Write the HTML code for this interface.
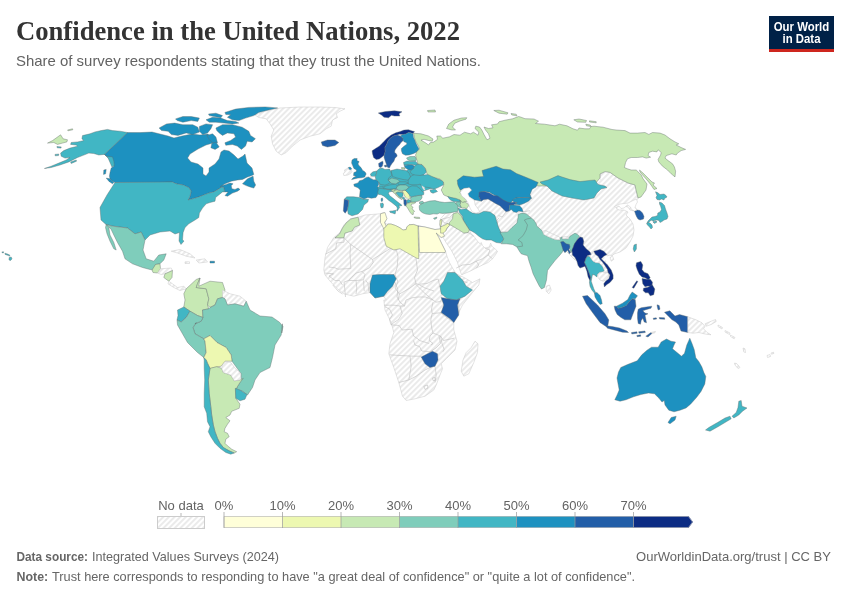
<!DOCTYPE html>
<html><head><meta charset="utf-8">
<style>
html,body{margin:0;padding:0;background:#fff;}
body{width:850px;height:600px;overflow:hidden;position:relative;font-family:"Liberation Sans",sans-serif;}
svg{position:absolute;left:0;top:0;}
.t{font-family:"Liberation Serif",serif;font-weight:bold;fill:#333;}
.s{font-family:"Liberation Sans",sans-serif;fill:#636363;}
.l{font-family:"Liberation Sans",sans-serif;fill:#636363;font-size:13px;}
.f{font-family:"Liberation Sans",sans-serif;fill:#666;font-size:13px;}
</style></head><body>
<svg width="850" height="600" viewBox="0 0 850 600">
<defs>
<pattern id="h" width="4" height="4" patternUnits="userSpaceOnUse" patternTransform="rotate(45)"><rect width="4" height="4" fill="#fff"/><line x1="1" y1="-1" x2="1" y2="5" stroke="#e0e0e0" stroke-width="1.3"/></pattern>
</defs>
<rect width="850" height="600" fill="#fff"/>
<text class="t" x="16" y="40" font-size="27" textLength="444" lengthAdjust="spacingAndGlyphs">Confidence in the United Nations, 2022</text>
<text class="s" x="16" y="66" font-size="15" textLength="465" lengthAdjust="spacingAndGlyphs">Share of survey respondents stating that they trust the United Nations.</text>
<!-- logo -->
<rect x="769" y="16" width="65" height="36" fill="#002147"/>
<rect x="769" y="49" width="65" height="3" fill="#ce261e"/>
<text x="801.5" y="31" text-anchor="middle" font-family="Liberation Sans,sans-serif" font-weight="bold" font-size="12" fill="#fff" textLength="55.5" lengthAdjust="spacingAndGlyphs">Our World</text>
<text x="801.5" y="43" text-anchor="middle" font-family="Liberation Sans,sans-serif" font-weight="bold" font-size="12" fill="#fff" textLength="38" lengthAdjust="spacingAndGlyphs">in Data</text>
<!-- MAP -->
<g id="map" stroke-linejoin="round">
<path d="M358.8 217L365 215L380 213.8L383.8 212.5L386.2 218.8L385 223.8L388 224L391 224L395.5 225.5L400 227.8L403 230L406.2 229.5L406.8 227L409 224.8L413.5 224.4L418 225.9L425 227L435 229.5L441.2 228.8L444.5 236.2L441.2 237.5L436.2 233L438.8 237.5L441.8 243.8L445.5 251.2L447 256.2L449.5 262.5L452.5 268L456.2 273.8L465 278L472.5 282.5L480 278.8L478.8 285L472.5 292.5L462.5 305L457.5 315L453.8 322.5L453.8 321.2L453.8 330L457 341.2L455 350L446.2 358.8L441.2 363.8L442.5 368.8L440 375L436.2 385L433.8 390L425 396.2L415 398.8L406.2 400.5L402.5 396.2L398.8 382.5L393.8 367.5L388.8 353.8L390 343.8L393.8 332.5L391.2 322.5L385 310L383.8 300L386.2 300L383.8 296.2L375 298L370 292.5L362.5 293.8L353.8 296.2L343.8 293.8L337.5 288.8L331.2 282.5L325 275L323.8 270L325 257.5L327.5 247.5L333.8 237.5L340 232.5L343.8 225L350 218.8Z" fill="url(#h)" stroke="#c8c8c8" stroke-width="0.5"/>
<path d="M475 341.2L478 343.8L477.5 352.5L473.8 362.5L468.8 373.8L463.8 376.2L461.2 371.2L463 360L466.2 352.5L471.2 347.5Z" fill="url(#h)" stroke="#c8c8c8" stroke-width="0.5"/>
<path d="M379.3 174.2L391 171.2L406 171.2L410.5 167.8L419.5 168.7L424 175.8L436 179.5L436 187L424 190.8L421 194.5L410.5 195.2L407.5 190L398.5 189.2L391 190L385 189.2L379.3 189.2L379.3 182.5Z" fill="#41b6c4" stroke="#5f6b6b" stroke-width="0.4"/>
<path d="M470 200L500 180L540 183L600 180L600 174L600 174L605 171.6L610 172.4L618 178L628 183L635 185L636 190L638 198L636 201L634 206L637 210L634 211L630 210L628 207L624 206L620 205L616 208L619 210L624 210L628 212L626 215L630 219L633 224L634 230L633 236L630 242L626 248L620 252L614 254L612 256L610 255L607 256L604 252L600 250L590 262L575 260L560 245L540 238L520 232L500 225L480 215L470 205Z" fill="url(#h)" stroke="#c8c8c8" stroke-width="0.5"/>
<path d="M474.5 201.2L478.2 200.5L481.2 201.2L483.5 199.8L488 199L491.8 201.2L495.5 203.5L500 205.8L503 208.8L506 211.8L509 211L511.2 209.5L513.5 211.8L516.5 212.5L518.8 211L523.2 211.8L530 209.5L530 220L518 214L517.2 220L514.2 223.8L510.5 226.8L504.5 232L499.2 231.2L497.8 226L497 220L499.2 217.8L498.5 215.5L495.5 212.5L489.5 211L483.5 210.2L479.8 211.8L477.5 208L475.2 205Z" fill="url(#h)" stroke="#c8c8c8" stroke-width="0.5"/>
<path d="M470 188L540 178L600 176L600 250L560 243L530 225L505 232L498 228L480 215L470 205Z" fill="url(#h)"/>
<path d="M578.1 238.8L587.5 235L600 243.8L606.9 254.4L603.8 256.2L608.8 266.2L612.5 275L608.8 280L602.5 281.2L597.5 275L591.2 277.5L587.5 262.5L582.5 250Z" fill="url(#h)"/>
<path d="M610 257.5L612.5 256.2L613.8 259.4L611.2 261.2Z" fill="url(#h)" stroke="#c8c8c8" stroke-width="0.5"/>
<path d="M440.6 218.8L445 213.8L452.5 211.9L457.5 211.2L461.2 215.6L469.4 230L471.2 233.8L473.8 236.2L477.5 241.2L480 243.8L481.2 242.5L482.5 245.6L485 248.1L489.4 246.9L490.6 243.1L491.9 246.2L495 248.8L497.5 251.2L496.2 253.8L492.5 258.8L488.1 262.5L482.5 265L476.2 268.1L470 271.2L463.8 273.8L461.9 275L461.2 273.8L459.4 268.8L457.5 262.5L454.4 256.2L451.2 250L446.9 243.8L443.1 237.5L440.6 233.1L440 226.9Z" fill="url(#h)" stroke="#c8c8c8" stroke-width="0.5"/>
<path d="M335 237.8L344 237.8L344 242.2L336.5 243L335.8 249L325.2 254.2M344 237.8L350.8 244.5L350 253.5L350.8 268.5L338 269.2L335 267.8L329 267M350.8 244.5L372.5 259.5L373.2 262.5L369.5 267.8L365 270L362 271.5L356 273L351.5 277.5L348.5 280.5L344 282M372.5 259.5L386 251.2L390.5 248.2L396.5 250.5L398 256.5L397.2 267L395 274.5M416 258.8L417.5 270L414.5 277.5L416 283.5L419.8 285L425 288L434 291M324.5 273L333.5 273.8L329 276L335 280.5L339.5 280.5L342.5 285M332.8 285L338 291L342.5 294M344 282L344.8 289.5L345.5 297M356 280.5L356.8 288L356 294M363.5 280.5L364.2 291M365.8 280.5L368 283.5L368.8 291.8M348.5 280.5L356 280.5L363.5 279.8L365 274.5L362 271.5M395 274.5L398 282L395 288L399.5 294L398 300M399.5 294L410 288L416 283.5M394.8 282L397.8 289.5L397 297L400 302.2L404.5 306M384.2 305.2L394 305.2L400 306L404.5 306L406 300L412 297.8L418 297L425.5 297L433 300L436 302.2L440.5 301.5L442 298.5M415 283.5L421 289.5L425.5 294L433 300M419.5 284.2L427 283.5L433 280.5L438.2 279L439.8 286.5M433 302.2L431.5 309L432.2 313.5L440.5 312.8L442 310.5M432.2 313.5L430.8 319.5L431.5 327L433 333L430 336L429.2 340.5L433 343.5L430.8 345M440.5 312.8L452.5 321.8M433 333L440.5 336L443.5 340.5L454 338.2M391 324.8L399.2 325.5L402.2 330L412 329.2L413.5 336L418 339L419.5 340.5L429.2 343.5M385 306.8L389.5 309L392.5 315L389.5 319.5L391 324.8M400 306L402.2 313.5L398.5 319.5L394 322.5L391 324.8M413.5 340.5L415 345L419.5 346.5L421.8 351L430 351.8L436 348L440.5 343.5L439 336M389.5 354.8L400 355.5L413.5 356.2L421 356.2M440.5 336L442 343.5L444.2 349.5L442.8 351.8M458.5 300L459.2 313.5M458.5 278.2L463 281.2L467.5 282.8M410 356.2L411.2 366.2L408.8 380L398.8 382.5M408.8 380L416.2 376.2L425 370L430 367.5M435 366.2L436.2 375L435 382.5M423.8 386.2L427.5 385L428 388L425 389.5L423.8 386.2M432.5 378L435 377.5L435 380.5L433 380.5L432.5 378M449.4 224.4L445.6 231.2M468.1 232.5L471.2 234.4L473.8 236.2M463.8 233.1L468.1 232.5M456.2 268.1L462.5 265L470 264.4L476.2 261.2L482.5 258.8L488.1 255L490 250L485 248.1M476.2 261.2L478.8 265L476.2 268.1M488.1 255L492.5 258.8M442.2 218.8L449.4 217.5L453.1 213.8M449.4 224.4L443.8 222.5L441.9 219.4M498.5 215.5L502.2 217L506 211.8M523.2 211.8L530 210.7M499.2 231.2L497.8 226L497 220L499.2 217.8" fill="none" stroke="#c0c0c0" stroke-width="0.6"/>
<path d="M127.5 132.5L104.4 154.4L108.1 157.5L111.9 163.1L113.8 166.2L111.2 168.1L110 172.5L109.4 176.2L110 178.8L112.5 181.2L115 182.5L160 182.5L171.9 181.9L176.2 183.8L183.1 185L188.8 187.5L191.2 191.2L190 196.2L188.1 200L192.5 198.8L198.8 196.9L203.8 195L208.8 193.1L213.8 191.9L218.1 189.4L221.2 187.5L223.8 187.2L224.4 191.9L228.1 191.9L225 195.6L227.5 196.2L232.5 193.1L237.5 191.2L240 189.4L238.1 188.1L235 189.4L231.9 188.8L231.2 185.6L233.1 183.8L230 183.1L226.2 184.4L222.5 185.6L220 186.9L225 183.8L231.2 181.2L237.5 180L242.5 179.4L247.5 176.9L251.9 175.6L253.8 174.4L252 168L247 163L245 154L243 156L238 159L234 155L229 151L224 150L221 152L219 159L215 164L209 168L209 172L206 176L203 174L203 168L198 164L191 162L187.6 158L190 154L198 149L206 145L213 143L211 138L208 134L200 135L192 134L182 136L174 138L168 136L160 134L152 132L140 132.6Z" fill="#1d91c0" stroke="#5f6b6b" stroke-width="0.4"/>
<path d="M242.5 183.8L247.5 178.8L253.1 176.2L253.8 181.2L255.6 185L253.8 188.1L250 186.9L246.2 185.6Z" fill="#1d91c0" stroke="#5f6b6b" stroke-width="0.4"/>
<path d="M115 182.5L107 195L100 207.5L101 220L106 224.5L112.5 226L127.5 228L135 234L141 232L145 240L150 235L160 232L170 231L175 234L179.5 232.5L179 241L181 244.5L184 241L182.5 240L183.1 232.5L185 227.5L188.8 223.8L195 220L198.8 217.5L199.4 213.1L202.5 208.1L206.2 203.8L210 202.5L215 201.2L215.6 197.5L222.5 191.9L224.4 191.9L223.8 187.2L221.2 187.5L218.1 189.4L213.8 191.9L208.8 193.1L203.8 195L198.8 196.9L192.5 198.8L188.1 200L190 196.2L191.2 191.2L188.8 187.5L183.1 185L176.2 183.8L171.9 181.9Z" fill="#41b6c4" stroke="#5f6b6b" stroke-width="0.4"/>
<path d="M106.2 224.5L112.5 226.2L127.5 228L135 233.8L141.2 232L145 240L143 250L146.2 258.8L153.8 261.2L158.8 255L166.2 253.8L163.8 260L160 263.8L155.5 264.5L153.8 270L150 269.5L142.5 267.5L132.5 263.8L125 258.8L122.5 251.2L117.5 242.5L113.8 235L111.2 229.5L108.8 227Z" fill="#7fcdbb" stroke="#5f6b6b" stroke-width="0.4"/>
<path d="M106.2 224.5L108.8 227.5L110 235L113.8 242.5L116.2 250L113.8 248.8L110 241.2L107 233.8L105.5 227.5Z" fill="#7fcdbb" stroke="#5f6b6b" stroke-width="0.4"/>
<path d="M155.5 264.5L160 263.8L160.5 268.8L157.5 273L153 272.5L152 270Z" fill="#c7e9b4" stroke="#5f6b6b" stroke-width="0.4"/>
<path d="M160.5 268.8L171.2 268L172.5 270.5L165 273.8L161.2 274.5L157.5 273Z" fill="url(#h)" stroke="#c8c8c8" stroke-width="0.5"/>
<path d="M165 273.8L172.5 270.5L172 277.5L168.8 281.2L163.8 277.5Z" fill="#c7e9b4" stroke="#5f6b6b" stroke-width="0.4"/>
<path d="M168.8 281.2L172.5 283.8L177.5 287.5L183.8 286.2L186.2 288.8L180 290.5L173.8 287.5L168 283.8Z" fill="url(#h)" stroke="#c8c8c8" stroke-width="0.5"/>
<path d="M171.2 251.2L180 249.5L190 253.8L195 258L186.2 256.2L177.5 253Z" fill="url(#h)" stroke="#c8c8c8" stroke-width="0.5"/>
<path d="M196.2 260L205 258.8L207.5 262L198.8 263Z" fill="url(#h)" stroke="#c8c8c8" stroke-width="0.5"/>
<path d="M210 261.2L214.5 261.2L214.5 263L210 263Z" fill="#1d91c0" stroke="#5f6b6b" stroke-width="0.4"/>
<path d="M185 261.8L189.5 261.8L189.5 263.5L185 263.5Z" fill="url(#h)" stroke="#c8c8c8" stroke-width="0.5"/>
<path d="M186.2 288.8L196.2 279.5L200 278L197.5 283.8L196.2 287.5L206.2 288.8L208.8 298.8L207.5 305L208.8 308.8L202.5 310L203 317.5L197.5 315.5L190 311.2L183.8 307L185 300L183.8 293.8Z" fill="#c7e9b4" stroke="#5f6b6b" stroke-width="0.4"/>
<path d="M200 278L198.8 286.2L210 281.2L222.5 282.5L225 290L222.5 297.5L217.5 298.8L215 305L210 307.5L207.5 305L208.8 298.8L206.2 288.8L196.2 287.5L197.5 283.8Z" fill="#c7e9b4" stroke="#5f6b6b" stroke-width="0.4"/>
<path d="M222.5 290L230 293.8L240 296.2L246.2 301.2L243.8 306.2L235 303.8L227.5 305L225 298.8L222.5 297.5Z" fill="url(#h)" stroke="#c8c8c8" stroke-width="0.5"/>
<path d="M177.5 310L183.8 307L190 311.2L186.2 317.5L181.2 322L177 320L178 315.5Z" fill="#41b6c4" stroke="#5f6b6b" stroke-width="0.4"/>
<path d="M203 317.5L202.5 310L208.8 308.8L210 307.5L215 305L217.5 298.8L222.5 297.5L225 298.8L227.5 305L235 303.8L243.8 306.2L246.2 301.2L250 310L260 316L272 317L279.5 322.2L283 326.5L281.8 333L282.5 323.8L281.2 335L275 345L272.5 357.5L270 367.5L260 372.5L255 380L252.5 387.5L247.5 395L242.5 391.2L236.2 388.8L241.2 380L241.2 373.8L237.5 368.8L232 361.2L231.2 355L226.2 347.5L217 342.5L210 335.5L203.8 338.8L195 333.8L193 327.5L196.2 322.5L200 320L195 323.8L201.2 321.2Z" fill="#7fcdbb" stroke="#5f6b6b" stroke-width="0.4"/>
<path d="M177 320L181.2 322L186.2 317.5L190 311.2L197.5 315.5L203 317.5L201.2 321.2L195 323.8L196.2 322.5L193 327.5L195 333.8L203.8 338.8L205 341.2L206.2 352.5L203.8 357.5L197.5 352.5L187.5 342.5L177.5 325Z" fill="#7fcdbb" stroke="#5f6b6b" stroke-width="0.4"/>
<path d="M203.8 338.8L210 335.5L217 342.5L226.2 347.5L231.2 355L232 361.2L225 361.2L221.2 366.2L213.8 367.5L210 368.8L206.2 360L203.8 357.5L206.2 352.5L205 341.2Z" fill="#edf8b1" stroke="#5f6b6b" stroke-width="0.4"/>
<path d="M255 115L265 111.2L280 108L300 107L320 107L335 107.5L345 108.8L340 111.2L336.2 113.8L337.5 117.5L332.5 120L331.2 126.2L326.2 128.8L320 133.8L310 136.2L300 140L292.5 146.2L286.2 152.5L281.2 155L276.2 151.2L272.5 143.8L271.2 136.2L273.8 130L270 123.8L266.2 118.8L258.8 117.5Z" fill="url(#h)" stroke="#c8c8c8" stroke-width="0.5"/>
<path d="M321.2 142L327.5 140L335 140L338.8 142.5L335 145.5L327.5 147L322.5 145.5Z" fill="#225ea8" stroke="#5f6b6b" stroke-width="0.4"/>
<path d="M159.1 128L166.5 123.9L174.7 123.1L182.9 124.7L192.8 124.7L197.8 127.2L199.4 132.1L192.8 134.6L186.2 132.9L178 135.4L171.4 134.6L168.1 131.3L161.5 130.5Z" fill="#1d91c0" stroke="#5f6b6b" stroke-width="0.4"/>
<path d="M175.5 118.9L182.9 116.5L191.2 116.5L199.4 118.1L197.8 121.4L191.2 120.6L182.9 122.2L177.2 120.6Z" fill="#1d91c0" stroke="#5f6b6b" stroke-width="0.4"/>
<path d="M199.4 126.4L206 123.9L212.6 124.7L210.9 128.8L207.6 132.9L202.7 134.6L199.4 131.3Z" fill="#1d91c0" stroke="#5f6b6b" stroke-width="0.4"/>
<path d="M206 119.8L212.6 117.3L220.8 118.1L227.4 120.6L235.6 121.4L238.9 123.1L232.4 123.9L224.1 123.1L215.9 122.2L209.3 122.2Z" fill="#1d91c0" stroke="#5f6b6b" stroke-width="0.4"/>
<path d="M208.5 114L215.9 113.2L222.5 115.6L220.8 117.8L214.2 116.5L209.3 115.6Z" fill="#1d91c0" stroke="#5f6b6b" stroke-width="0.4"/>
<path d="M224.9 112.4L235.6 109.1L248.8 107.4L265.3 106.9L277.6 107.9L268.6 109.9L258.7 112.4L253.8 115.6L245.5 118.1L238.9 120.6L232.4 119.8L227.4 117.3L230.7 114.8L225.8 114.5Z" fill="#1d91c0" stroke="#5f6b6b" stroke-width="0.4"/>
<path d="M215.9 128L222.5 124.7L232.4 124.7L242.2 127.2L248.8 131.3L250.5 135.4L255.4 138.7L252.1 142L247.2 141.2L245.5 146.1L241.4 149.4L237.3 146.1L232.4 144.5L225.8 145.3L224.9 142.8L230.7 140.4L235.6 137.1L234 133.8L227.4 132.9L222.5 135.4L219.2 132.9L216.7 130.5Z" fill="#1d91c0" stroke="#5f6b6b" stroke-width="0.4"/>
<path d="M206.8 135.4L212.6 133.8L215.9 137.1L217.5 142.8L213.4 143.6L209.3 139.5Z" fill="#1d91c0" stroke="#5f6b6b" stroke-width="0.4"/>
<path d="M211.8 143.6L215.9 142L219.2 146.9L215.1 149.4L210.9 147.8Z" fill="#1d91c0" stroke="#5f6b6b" stroke-width="0.4"/>
<path d="M1.9 251.9L3.6 251.8L3.4 252.9L2.1 252.7Z" fill="#41b6c4" stroke="#5f6b6b" stroke-width="0.4"/>
<path d="M4.9 253.2L7.5 254L9.8 255.1L9.6 256.1L7.1 255.1L5.1 254.4Z" fill="#41b6c4" stroke="#5f6b6b" stroke-width="0.4"/>
<path d="M9.2 257.4L11.2 257L12 258.9L10.1 260.8L9 259.6Z" fill="#41b6c4" stroke="#5f6b6b" stroke-width="0.4"/>
<path d="M210 368.3L216.7 366.7L221.7 368.3L223.3 372.5L230.8 375L234.2 380.8L240 380L243.3 378.3L240 382.5L235.8 389.2L235.8 398.3L240 404.2L239.2 408.3L231.7 411.3L230 415L225.8 417.5L230 420.8L227.5 424.2L225 428.3L224.2 431.7L227.5 433.3L229.2 436.7L225.8 439.2L225 443.3L227.5 445.8L231.7 449.2L236.7 451.7L234.2 453L229.2 450.8L225.8 449.2L223.3 447.5L220 443.3L217.5 438.3L215 431.7L213.3 425L211.7 415L210.8 406.7L209.2 393.3L208.3 380Z" fill="#c7e9b4" stroke="#5f6b6b" stroke-width="0.4"/>
<path d="M203.7 357.5L206.2 360L207.5 363.3L210 368.3L208.3 380L209.2 393.3L210.8 406.7L211.7 415L213.3 425L215 431.7L217.5 438.3L220 443.3L223.3 447.5L229.2 450.8L234.2 453L230.8 454.2L225.8 452.5L220 448.3L215 443.3L210.8 436.7L208.3 431.7L210 426.7L207.5 421.7L206.7 413.3L204.2 406.7L204.2 393.3L204.7 380L204.2 368.3L204.2 360Z" fill="#41b6c4" stroke="#5f6b6b" stroke-width="0.4"/>
<path d="M235.3 388.3L240.8 390.5L247 394.5L245 399.2L240 400.8L235.8 398.3Z" fill="#41b6c4" stroke="#5f6b6b" stroke-width="0.4"/>
<path d="M222.5 365L225.8 361.7L230.8 362.5L235 368.3L240 372.5L240.8 378.3L240 380L234.2 380.8L230.8 375L223.3 372.5L221.7 368.3Z" fill="url(#h)" stroke="#c8c8c8" stroke-width="0.5"/>
<path d="M127.5 132.5L120 131.2L112.5 130.6L107.5 129.4L101.2 130.6L95 131.9L90 133.8L82.5 135.6L81.9 138.8L83.8 140.6L77.5 141.9L71.2 142.5L70.6 144.4L76.2 145L77.5 146.2L70 148.1L63.8 150.6L60.6 153.1L61.2 156.2L65 158.1L70 157.5L66.2 160L58.8 163.1L51.2 166.2L44.4 168.5L51.2 167.5L60 165L68.8 161.9L77.5 157.5L82.5 155.6L88.8 153.1L93.8 153.5L98.8 155L104.4 154.4Z" fill="#41b6c4" stroke="#5f6b6b" stroke-width="0.4"/>
<path d="M47.5 143.1L52.5 140.6L60.6 134.8L63.1 138.8L67.5 139.8L66.9 141.9L62.5 143.1L57.5 144.4L53.8 142.5Z" fill="#c7e9b4" stroke="#5f6b6b" stroke-width="0.4"/>
<path d="M67.5 130L72.5 128.8L72.8 129.8L68.1 130.8Z" fill="#c7e9b4" stroke="#5f6b6b" stroke-width="0.4"/>
<path d="M56.9 146.5L61.2 146.9L61 148.1L57.2 147.8Z" fill="#41b6c4" stroke="#5f6b6b" stroke-width="0.4"/>
<path d="M55 154.4L58.8 154L58.5 155.6L55.2 155.8Z" fill="#41b6c4" stroke="#5f6b6b" stroke-width="0.4"/>
<path d="M70.6 161.9L76.2 160L76.5 161.2L71.2 163.5Z" fill="#41b6c4" stroke="#5f6b6b" stroke-width="0.4"/>
<path d="M103.8 170L106.2 169.4L105.6 173.8L103.5 174.4Z" fill="#1d91c0" stroke="#5f6b6b" stroke-width="0.4"/>
<path d="M106.2 178.1L110 178.8L113.8 182.5L112.5 183.8L108.8 181.2Z" fill="#1d91c0" stroke="#5f6b6b" stroke-width="0.4"/>
<path d="M335 237.8L339.5 234L342.5 228L346.2 222.8L350.8 219L358.2 217.2L359.8 225L354.5 227.2L352.2 231L344.8 233.2L344 237.8Z" fill="#c7e9b4" stroke="#5f6b6b" stroke-width="0.4"/>
<path d="M380.5 213.8L385 212.5L387 218.8L384.5 222.5L386.2 226.2L383.8 228.8L380.5 222.5Z" fill="#ffffd9" stroke="#5f6b6b" stroke-width="0.4"/>
<path d="M386.2 226.2L388 224L391 224L395.5 225.5L400 227.8L403 230L406.2 229.5L406.8 227L409 224.8L413.5 224.4L418 225.9L418.8 258.8L416.2 258L400 248.8L393.8 250L386.2 246.2L383.8 237.5L383.8 228.8Z" fill="#edf8b1" stroke="#5f6b6b" stroke-width="0.4"/>
<path d="M418 225.9L425 227L435 229.5L441.2 228.8L444.5 236.2L441.2 237.5L436.2 233L438.8 237.5L441.8 243.8L445.5 251.2L445 252.5L419.5 252.5L418.5 226Z" fill="#ffffd9" stroke="#5f6b6b" stroke-width="0.4"/>
<path d="M372.5 275L380 274.5L393.8 274.5L396.2 278.8L392.5 286.2L387.5 291.2L383.8 296.2L375 298L370 292.5L370 283.8Z" fill="#1d91c0" stroke="#5f6b6b" stroke-width="0.4"/>
<path d="M447.5 272.5L455 272.5L462.5 280L466.2 286.2L472.5 290L465 296.2L456.2 300L447.5 298.8L441.2 293.8L440 286.2L443.8 281.2Z" fill="#41b6c4" stroke="#5f6b6b" stroke-width="0.4"/>
<path d="M441.2 297.5L447.5 298.8L456.2 300L460 298.8L457.5 305L458.8 315L453.8 322.5L450 318.8L441.2 312.5L443.8 305Z" fill="#225ea8" stroke="#5f6b6b" stroke-width="0.4"/>
<path d="M421.2 357L427.5 353.8L432.5 351.2L437.5 353.8L438 360L435 366.2L430 367.5L425 363.8Z" fill="#225ea8" stroke="#5f6b6b" stroke-width="0.4"/>
<path d="M378.3 113L385.5 111.5L394.5 110.8L402 111.8L399 113.8L399.8 116L394.5 116L391.5 115.2L388.5 117.8L384 117.2L381.8 115.2Z" fill="#0c2c84" stroke="#5f6b6b" stroke-width="0.4"/>
<path d="M408.2 180.2L410.5 176.5L415 174.2L424 175L430 174.2L437.5 178.8L443.5 181L443.5 184.8L437.5 187.8L433.8 189.2L430 187.8L425.5 187L423.2 189.2L420.2 184L418 184.8L412 184.8L408.2 184Z" fill="#41b6c4" stroke="#5f6b6b" stroke-width="0.4"/>
<path d="M430 190L435.2 189.2L437.5 191.5L433 193.3L430.8 192.2Z" fill="#41b6c4" stroke="#5f6b6b" stroke-width="0.4"/>
<path d="M344.5 199L346.8 196.8L353.5 196.8L359.5 197.5L364 199.3L368.5 199.3L367.8 202L364 205L362.5 209.5L358 214L352 215.8L348.2 214L347.5 209.5L348.2 205L349 200.5Z" fill="#41b6c4" stroke="#5f6b6b" stroke-width="0.4"/>
<path d="M344.2 199.3L348.7 200.5L348.2 205L347.2 210.2L345.2 213.2L343.3 211L343.8 205Z" fill="#225ea8" stroke="#5f6b6b" stroke-width="0.4"/>
<path d="M391 170.5L397 169L406 170.5L409 172.8L410.5 176.5L408.2 180.2L403 179.5L397 178L392.5 176.5Z" fill="#41b6c4" stroke="#5f6b6b" stroke-width="0.4"/>
<path d="M388 180.2L391.8 178L397.8 179.5L400 181.8L395.5 184L391 183.2Z" fill="#7fcdbb" stroke="#5f6b6b" stroke-width="0.4"/>
<path d="M383.5 186.7L390.2 184.8L395.5 184.3L397.8 186.2L395.5 188.5L389.5 189.2L385 188.8Z" fill="#41b6c4" stroke="#5f6b6b" stroke-width="0.4"/>
<path d="M376.8 187L382.8 186.7L383.5 189.2L379.8 190.8L376.8 190Z" fill="#41b6c4" stroke="#5f6b6b" stroke-width="0.4"/>
<path d="M397.8 182.5L400 181.8L406 181.8L408.2 183.2L403 184.8L398.5 184.8Z" fill="#41b6c4" stroke="#5f6b6b" stroke-width="0.4"/>
<path d="M433.5 218.2L436.9 217.1L436.6 218.4L434.6 219.4Z" fill="#7fcdbb" stroke="#5f6b6b" stroke-width="0.4"/>
<path d="M377.1 189.5L379.8 188.4L383.5 188.8L387.2 189.5L391 189.9L392.5 191.4L389.5 191.8L388.4 193.2L389.5 195.5L392.5 197.8L396.2 200.8L400 203.8L401.9 205.2L401.1 206L398.9 205.2L399.6 207.5L398.5 209L397.4 210.9L396.6 210.5L397.4 208.2L396.6 206.4L394.8 204.9L391.8 202.6L388.8 200.4L386.1 198.1L383.9 196.2L381.2 194.8L378.6 194.4L377.1 192.5Z" fill="#41b6c4" stroke="#5f6b6b" stroke-width="0.4"/>
<path d="M389.6 211.2L392.5 210.9L395.9 210.3L395.5 212.4L395.1 213.9L392.5 213.1L390.2 212.4Z" fill="#41b6c4" stroke="#5f6b6b" stroke-width="0.4"/>
<path d="M380.4 203.4L382.8 203L383.5 204.5L383.1 207.5L381.2 207.9L380.5 206Z" fill="#41b6c4" stroke="#5f6b6b" stroke-width="0.4"/>
<path d="M381.1 198.5L382.4 197.9L382.8 200L382 201.7L381.1 200.8Z" fill="#1d91c0" stroke="#5f6b6b" stroke-width="0.4"/>
<path d="M391.4 189.9L394 189.1L395.5 189.9L394.8 191L392.5 191.4Z" fill="#c7e9b4" stroke="#5f6b6b" stroke-width="0.4"/>
<path d="M392.5 191.4L394.8 191L395.5 189.9L398.5 190.2L402.2 191.4L403 192.5L400.8 192.3L397 192.1L395.5 193.2L397.8 195.5L400 197.8L402.2 199.2L401.9 199.6L399.2 198.1L396.6 195.9L394.8 193.6L393.2 192.5Z" fill="#c7e9b4" stroke="#5f6b6b" stroke-width="0.4"/>
<path d="M395.9 192.9L397.8 192.1L401.5 192.5L403 193.2L403 195.5L401.9 197.4L400 197.4L398.1 195.5Z" fill="#41b6c4" stroke="#5f6b6b" stroke-width="0.4"/>
<path d="M402.2 190.6L405.2 190.2L407.5 192.5L409.8 194.4L409.4 196.6L410.5 198.1L408.6 199.2L406.8 198.5L405.2 197L404.1 194.8L403.4 192.9Z" fill="#edf8b1" stroke="#5f6b6b" stroke-width="0.4"/>
<path d="M401.9 197.8L403.4 197L404.9 198.1L404.1 199.6L403 199.2Z" fill="#41b6c4" stroke="#5f6b6b" stroke-width="0.4"/>
<path d="M406 198.1L407.5 197.8L408.2 199.2L406.8 200Z" fill="url(#h)" stroke="#c8c8c8" stroke-width="0.5"/>
<path d="M403.8 200L405.2 199.2L406.4 200.4L406.8 203L406 205.6L404.9 206L403.9 203.8Z" fill="#225ea8" stroke="#5f6b6b" stroke-width="0.4"/>
<path d="M406.8 200.4L408.6 199.6L410.9 200.4L410.9 202.1L408.6 203L406.9 202.8Z" fill="#41b6c4" stroke="#5f6b6b" stroke-width="0.4"/>
<path d="M406 206L407.1 203.4L409 203L411.2 202.2L414.2 201.9L415.8 202.6L413.5 203.8L411.6 204.1L411.2 205.6L413.1 207.5L412 208.2L413.5 210.5L414.6 211.2L413.1 212.8L413.5 214.2L412 214.6L410.5 212.8L409 210.5L407.5 207.9Z" fill="#c7e9b4" stroke="#5f6b6b" stroke-width="0.4"/>
<path d="M414.2 216.9L416.5 217.2L419.5 217.4L419.9 218.4L416.5 218.4L414.2 217.8Z" fill="#c7e9b4" stroke="#5f6b6b" stroke-width="0.4"/>
<path d="M410.9 197L414.2 196.2L418 195.5L421.8 195.1L422.1 197.4L421 199.6L418.8 201.1L415 201.9L411.2 202.1L410.9 200.4L410.5 198.5Z" fill="#7fcdbb" stroke="#5f6b6b" stroke-width="0.4"/>
<path d="M406 189.9L409 187.2L412 185.8L416.5 186.1L420.2 188.8L422.5 191.8L424 192.5L423.6 194.8L421.8 195.1L418 195.5L414.2 196.2L410.9 197L409 194.4L407.5 192.5L405.2 190.2Z" fill="#41b6c4" stroke="#5f6b6b" stroke-width="0.4"/>
<path d="M397 186.5L400 185L406 185L409 187.2L406 189.9L402.2 190.6L398.5 190.2L396.2 188.4Z" fill="#7fcdbb" stroke="#5f6b6b" stroke-width="0.4"/>
<path d="M421.8 185.8L424 187.2L425.1 189.5L424 190.2L422.5 188Z" fill="url(#h)" stroke="#c8c8c8" stroke-width="0.5"/>
<path d="M419.5 201.9L422.5 201.1L424 202.6L421.8 204.1L419.5 203.8Z" fill="#7fcdbb" stroke="#5f6b6b" stroke-width="0.4"/>
<path d="M420 204.8L424.5 202.5L429.8 201L435 200.6L439.5 201.8L444.8 202.5L450 202.1L453.8 201.8L455.6 202.9L457.9 205.9L458.2 209.2L457.5 211.5L453 212.2L448.5 213L442.5 213.4L439.5 213L437.2 214.1L433.5 213.8L429.8 214.5L426 214.1L423 213L420.8 211.5L419.6 210L419.2 207L419.4 205.5Z" fill="#7fcdbb" stroke="#5f6b6b" stroke-width="0.4"/>
<path d="M352 160.1L354.2 158.6L357.2 158.6L356.9 160.5L359.1 161.6L358 163.9L359.1 165.8L361 167.6L362.5 170.2L365.1 172.1L366.2 174L365.1 175.9L364.8 177L361.8 177.8L358 178.1L354.2 178.9L351.6 179.6L353.1 177.8L356.1 176.2L353.5 175.5L353.9 172.5L356.1 171.8L356.5 169.9L353.9 168.4L352.8 165.8L351.6 163.1Z" fill="#1d91c0" stroke="#5f6b6b" stroke-width="0.4"/>
<path d="M348.2 167.6L350.1 167.1L351.6 168.4L350.9 169.9L348.9 169.7Z" fill="#1d91c0" stroke="#5f6b6b" stroke-width="0.4"/>
<path d="M344.5 169.9L348.2 168L348.9 169.7L350.9 169.9L352 171.4L350.5 173.6L347.5 175.1L343.8 175.5L343.4 173.6L344.9 171.8Z" fill="url(#h)" stroke="#c8c8c8" stroke-width="0.5"/>
<path d="M370.4 174L373 171.8L376.8 171L376.4 174L375.2 176.6L373 176.8L371.1 176.2Z" fill="#41b6c4" stroke="#5f6b6b" stroke-width="0.4"/>
<path d="M370.4 176.6L373 176.8L375.2 176.6L376 179.2L373.8 180L371.5 178.5Z" fill="#fff" stroke="#c8c8c8" stroke-width="0.5"/>
<path d="M353.8 184.2L358 182.9L359.5 180.7L362.5 179.9L366.2 177.4L368.5 176.9L371.5 178.9L373.8 179.9L376 179.7L378.7 181.4L378.7 184.4L377.5 186.7L378.4 189.7L377.8 191.9L377.8 194.5L376 197.5L371.5 198.2L367.8 197.5L364 199L359.5 196.8L360.2 190L358 187.8L354.2 186.2Z" fill="#1d91c0" stroke="#5f6b6b" stroke-width="0.4"/>
<path d="M376.8 171L379 168.8L382 168L385 169.5L389.5 169.1L391 171.8L391.8 175.5L388.8 177.8L388 180L390.2 182.2L388.8 183.8L385 185.2L380.5 184.5L378.2 181.5L376 179.6L375.2 176.6L376.4 174Z" fill="#41b6c4" stroke="#5f6b6b" stroke-width="0.4"/>
<path d="M378.6 163.5L380.9 162L382.8 161.2L383.1 163.1L382.4 166.1L380.9 167.6L379 166.9Z" fill="#225ea8" stroke="#5f6b6b" stroke-width="0.4"/>
<path d="M384.2 165.4L386.5 165L387.1 166.5L385 167.1Z" fill="#225ea8" stroke="#5f6b6b" stroke-width="0.4"/>
<path d="M372.1 150.8L375.5 148.5L379.2 146.2L383 142.5L386.8 138.4L391.2 135L395.8 132.8L400.2 131.6L404 130.1L408.5 129.8L412.2 130.9L414.5 131.6L413 133.5L410.8 132.8L408.5 132.4L405.9 133.9L402.9 134.6L399.5 134.2L397.2 135L393.5 136.1L390.5 138L388.2 140.6L386.8 144L384.9 147.4L385.2 151.5L384.1 155.2L381.9 157.1L379.2 159L376.2 159.4L373.6 157.5L372.5 153.8Z" fill="#0c2c84" stroke="#5f6b6b" stroke-width="0.4"/>
<path d="M385.2 151.5L384.9 147.4L386.8 144L388.2 140.6L390.5 138L393.5 136.1L397.2 135L400.2 136.1L402.9 138L403.2 140.6L401 142.5L399.5 144.8L397.2 147L395 150L394.6 152.2L396.5 154.1L397.2 156L395 158.2L393.9 161.2L392 163.5L390.5 165.8L389.4 168L387.5 167.2L385.6 162L384.1 157.5L384.1 155.2Z" fill="#225ea8" stroke="#5f6b6b" stroke-width="0.4"/>
<path d="M402.9 134.6L405.9 133.9L408.5 132.4L410.8 133.1L413 133.9L413.4 137.2L414.9 140.2L416 143.2L417.5 146.2L419 148.9L417.5 151.5L413.8 153.4L409.2 154.9L405.5 155.2L402.5 153.8L401.4 150.8L401.4 148.5L404 146.2L407 144L406.2 142.5L404 141.8L403.2 140.6L402.9 138L400.2 136.1Z" fill="#1d91c0" stroke="#5f6b6b" stroke-width="0.4"/>
<path d="M406.5 158L410 156.5L415 156.5L416.5 159L415.5 161L411 161L408 160Z" fill="#7fcdbb" stroke="#5f6b6b" stroke-width="0.4"/>
<path d="M403.5 162.5L407 161L411 161.5L415.5 161.2L418 164L416.5 165.5L412 164.5L408 165L404 165Z" fill="#41b6c4" stroke="#5f6b6b" stroke-width="0.4"/>
<path d="M404 165.5L408 165L412 164.8L414.5 166L413.5 168.5L411 170L408 169.5L405.5 168Z" fill="#1d91c0" stroke="#5f6b6b" stroke-width="0.4"/>
<path d="M401.5 167.5L405 167.8L405 169.2L401.8 169Z" fill="#c7e9b4" stroke="#5f6b6b" stroke-width="0.4"/>
<path d="M414.5 166L418 164L422 164.5L425.5 168.5L426.5 172L424 174.5L420 175.5L415 175L411.5 174L410 171.5L413.5 168.5Z" fill="#41b6c4" stroke="#5f6b6b" stroke-width="0.4"/>
<path d="M414.2 133.3L421 133.8L428.5 136L433 139L432.2 141.2L428.5 140.5L424 139.3L421 140.2L425.5 142.8L428.5 145L430 142.8L433.8 142L437.5 139.3L436.8 136L440.5 136L442.8 138.2L449.5 136.8L454 134.5L460 135.2L464.5 132.2L470.5 133.8L473.5 132.2L478 135.2L478.8 132.2L475 128.5L475.8 126.2L479.5 127L481.8 130L484 134.5L487 139.8L490 138.2L488.5 133.8L485.5 130L484 127L488.5 128.5L493 127.8L491.5 124.8L497.5 124L499 121.8L505 120.2L512.5 118.8L518.5 116.5L520.5 117L525 118.7L534 119L538.5 121.2L535.5 123.5L544.5 124.2L555 125.8L559.5 124.2L567 125.8L573 128.8L577.5 130.2L579 128L585 128.8L589.5 128.8L591 126.5L594 126.2L603 127.2L612 129.5L612 129.5L616.2 130L625 130.6L630 133.1L637.5 133.1L645 132.5L648.8 134.4L652.5 132.5L660 133.1L665 135L670 138.8L675 141.9L678.8 143.8L676.2 145L681.2 147.5L685.6 149.4L681.2 150.6L677.5 153.1L676.2 155L671.9 153.8L666.2 155.6L665 158.1L668.1 160.6L672.5 163.8L674.4 166.9L675.6 171.2L675 176.9L671.2 173.8L667.5 170L662.5 166.2L658.8 161.9L658.1 159.4L660.6 155L661.2 152.5L658.1 149.8L656.9 151.9L652.5 151.2L648.8 152.5L648.1 155.6L650.6 157.2L646.2 158.1L642.5 156.9L637.5 157.5L631.2 157.5L627.5 158.8L625.6 162.5L624.4 167.5L627.5 168.8L631.2 170L636.2 170L638.8 172.5L641.2 175L643.1 178.8L647 184L646 190L641 197L638 198L636 190L635 185L628 183L618 178L610 172.4L605 171.6L600 174L600 178L595 184L570 186L548 186L538 186L520 180L500 175L485 178L470 182L459 184L457.5 183.8L462.5 186.2L461.2 190L460 192.5L463.8 197.5L467.5 201.2L462.5 202.5L457.5 200L450 197.5L443.8 195L441.2 190L443.8 185L443.5 182L440 179L436 178L432 176.5L427 174L426.5 172L425.5 168.5L422 164.5L418 164L416.5 159L415.5 155L417 151.5L419.5 149L418.5 146L416 142L414.5 138L413.5 133Z" fill="#c7e9b4" stroke="#5f6b6b" stroke-width="0.4"/>
<path d="M446.5 128.5L448.8 124L454 120.2L461.5 118L466.8 117.7L466 119.2L460 121L454.8 123.2L452.5 127L455.5 130L451.8 130Z" fill="#c7e9b4" stroke="#5f6b6b" stroke-width="0.4"/>
<path d="M427.5 110.5L435 110L435.5 112L428 112Z" fill="#c7e9b4" stroke="#5f6b6b" stroke-width="0.4"/>
<path d="M493.8 110.5L499 110.2L508 112.8L507.2 114.2L499 113.2Z" fill="#c7e9b4" stroke="#5f6b6b" stroke-width="0.4"/>
<path d="M511 113.5L516.2 114.2L517 115.8L511.8 115Z" fill="#c7e9b4" stroke="#5f6b6b" stroke-width="0.4"/>
<path d="M573.8 119.8L579 119L586.5 120.5L585.8 122.3L577.5 122Z" fill="#c7e9b4" stroke="#5f6b6b" stroke-width="0.4"/>
<path d="M589.5 120.8L596.2 121.7L596.2 122.8L589.5 122Z" fill="#c7e9b4" stroke="#5f6b6b" stroke-width="0.4"/>
<path d="M585.8 124.2L590.2 125L591 126.5L586.5 125.8Z" fill="#c7e9b4" stroke="#5f6b6b" stroke-width="0.4"/>
<path d="M546.2 286.2L549.5 285L551.2 290L548.8 293.8L546.2 291.2Z" fill="url(#h)" stroke="#c8c8c8" stroke-width="0.5"/>
<path d="M582.5 296.2L587.5 295.5L597.5 305L605 313.8L608.8 320L607.5 327.5L600 322.5L592.5 312.5L586.2 303.8Z" fill="#225ea8" stroke="#5f6b6b" stroke-width="0.4"/>
<path d="M634 245L636.4 244L636.4 249L634.4 252L633.2 249Z" fill="#41b6c4" stroke="#5f6b6b" stroke-width="0.4"/>
<path d="M666.5 339L671 341.2L675.5 342L674 345L672.5 348.8L677 352.5L681.5 356.2L684.5 353.2L686.8 345L689.8 338.2L692 343.5L694.2 349.5L695.8 357.8L698.8 361.5L701.8 366.8L704 372.8L705.8 376.5L704.8 384L701 391.5L696.5 397.5L690.5 404.2L686 408L680 410.2L674 411.8L668.8 410.2L665 405L664.2 400.5L662 402L659 398.2L654.5 393.8L648.5 393L641 394.5L633.5 396.8L626 399.8L620 401.2L614.8 399.8L617 395.2L619.2 390L617.8 382.5L617 378L618.5 372L620.8 367.5L627.5 364.5L637.2 360.8L641.8 354.8L647 350.2L651.5 347.2L658.2 347.2L661.2 342Z" fill="#1d91c0" stroke="#5f6b6b" stroke-width="0.4"/>
<path d="M668 422.5L671.2 417.5L676.2 416.2L675 420L670 423.8Z" fill="#1d91c0" stroke="#5f6b6b" stroke-width="0.4"/>
<path d="M738.8 401.2L741.2 400.5L742 406.2L747 408L742.5 411.2L738.8 415L733.8 418L732 416.2L736.2 412.5L738 407.5Z" fill="#41b6c4" stroke="#5f6b6b" stroke-width="0.4"/>
<path d="M730 416.2L731.2 418.8L725 422.5L717.5 427L710 431.2L705.5 430L708.8 427.5L717.5 422.5L725 418Z" fill="#41b6c4" stroke="#5f6b6b" stroke-width="0.4"/>
<path d="M636.5 262.8L640.8 261.4L642.8 265L642 269.5L644.2 272.2L648 273.7L650.2 277.8L648.3 279.7L645 277.8L642 277L639.3 274.3L637.2 269.5L636 265.8Z" fill="#0c2c84" stroke="#5f6b6b" stroke-width="0.4"/>
<path d="M642 278.5L646.5 279.2L650.2 279.2L652.5 282.2L651.8 286.8L648 286L645 286.8L642.8 283.8Z" fill="#0c2c84" stroke="#5f6b6b" stroke-width="0.4"/>
<path d="M643.5 288.2L648 287.2L652.2 284.8L654.8 289L653.7 294.7L650.2 295.8L648.3 292.8L645.5 292.8L643.2 290.8Z" fill="#0c2c84" stroke="#5f6b6b" stroke-width="0.4"/>
<path d="M632.2 287.5L636.8 280.8L637.8 281.5L633.8 288.2Z" fill="#0c2c84" stroke="#5f6b6b" stroke-width="0.4"/>
<path d="M614.2 306.2L616.5 306.2L618 308.2L621 307.8L626.2 305.5L629.2 301.8L632.2 298.8L635.2 299.5L636 306.2L634.5 310L632.2 316L630.8 319.8L624.8 319.8L621 317.5L617.2 314.5L615 310Z" fill="#225ea8" stroke="#5f6b6b" stroke-width="0.4"/>
<path d="M616.5 306.2L622.5 303.2L627.8 299.5L630 295L632.2 292L637.5 295.8L635.2 298.8L632.2 298.8L629.2 301.8L626.2 305.5L621 307.8L618 308.2Z" fill="#1d91c0" stroke="#5f6b6b" stroke-width="0.4"/>
<path d="M638.2 309.2L641.2 307.8L648 306.7L651.8 306.2L651 308.2L645.8 309.7L642.8 310.8L645 313L648 313.8L645 315.2L645.8 319L646.5 322.8L644.2 322L642.8 318.2L641.2 320.5L640.5 324.2L638.2 323.5L637.5 318.2L637.5 313Z" fill="#225ea8" stroke="#5f6b6b" stroke-width="0.4"/>
<path d="M657 304.8L659.2 305.5L660 309.2L658.2 310L657.5 307.8Z" fill="#225ea8" stroke="#5f6b6b" stroke-width="0.4"/>
<path d="M664.5 312.2L669.8 310.8L672 313L675 316L679.5 314.5L687.8 316.8L687.8 332.5L681 331L678.8 325L675.8 322L672 319.8L668.2 316Z" fill="#225ea8" stroke="#5f6b6b" stroke-width="0.4"/>
<path d="M687.8 316.8L696 319.8L702 322.8L705 326.5L703.5 328.8L707.2 332.5L711 334.8L705 334L699 332.5L693 333.2L687.8 332.5Z" fill="url(#h)" stroke="#c8c8c8" stroke-width="0.5"/>
<path d="M653.2 318.2L656.2 317.8L656.7 319L653.5 319.4Z" fill="#225ea8" stroke="#5f6b6b" stroke-width="0.4"/>
<path d="M659.2 317.5L664.5 317.8L664.8 319.3L659.7 319Z" fill="#225ea8" stroke="#5f6b6b" stroke-width="0.4"/>
<path d="M606 325.8L612 326.5L619.5 328L627 331L628.5 332.5L622.5 332.2L615 330.2L607.5 328.3Z" fill="#225ea8" stroke="#5f6b6b" stroke-width="0.4"/>
<path d="M631.5 332.5L636.8 331.8L637.2 333.2L631.8 334Z" fill="#225ea8" stroke="#5f6b6b" stroke-width="0.4"/>
<path d="M638.7 331.8L645 331L645.3 332.5L639 333.2Z" fill="#225ea8" stroke="#5f6b6b" stroke-width="0.4"/>
<path d="M636.8 335.5L640.5 334.8L640.8 336.2L637.2 336.7Z" fill="#225ea8" stroke="#5f6b6b" stroke-width="0.4"/>
<path d="M645.8 336.2L651 332.5L652.2 333.2L648 337Z" fill="#225ea8" stroke="#5f6b6b" stroke-width="0.4"/>
<path d="M651 332.5L655.5 331.4L654.8 332.9L652.2 333.4Z" fill="url(#h)" stroke="#c8c8c8" stroke-width="0.5"/>
<path d="M705 323.8L711.2 321.2L715.5 319.5L716.2 321.5L711.2 324.5L706.2 326.2Z" fill="url(#h)" stroke="#c8c8c8" stroke-width="0.5"/>
<path d="M718 325L722.5 327.5L722 329L718 326.5Z" fill="url(#h)" stroke="#c8c8c8" stroke-width="0.5"/>
<path d="M725 330.5L730 333L729.5 334.5L725 332Z" fill="url(#h)" stroke="#c8c8c8" stroke-width="0.5"/>
<path d="M730.5 335L735 337.5L734.2 338.8L730.5 336.5Z" fill="url(#h)" stroke="#c8c8c8" stroke-width="0.5"/>
<path d="M743 348L745 348.8L745.5 352.5L743.8 352Z" fill="url(#h)" stroke="#c8c8c8" stroke-width="0.5"/>
<path d="M734.5 363L737 363.8L740 367.5L738 368.5L735 365Z" fill="url(#h)" stroke="#c8c8c8" stroke-width="0.5"/>
<path d="M767 355.5L770 354.5L770.5 356.5L767.5 357.5Z" fill="url(#h)" stroke="#c8c8c8" stroke-width="0.5"/>
<path d="M771 353L773.5 352.2L773.8 353.5L771.5 354.2Z" fill="url(#h)" stroke="#c8c8c8" stroke-width="0.5"/>
<path d="M458.1 208.1L461.2 209.4L466.2 208.8L469.4 211.2L472.5 213.1L478.8 213.8L483.8 211.2L490 211.9L495 215.6L496.9 221.9L498.1 226.2L500 230.6L503.1 236.2L503.8 240L500.6 243.1L496.2 242.5L491.2 240L486.2 240L482.5 238.8L478.8 236.2L475 233.1L471.9 231.2L469.4 230L466.2 225L463.1 220L462.5 216.2L459.4 212.5Z" fill="#41b6c4" stroke="#5f6b6b" stroke-width="0.4"/>
<path d="M453.1 213.8L457.5 212.5L461.2 215.6L463.1 220L466.2 225L469.4 230L468.1 232.5L463.8 233.1L460 230.6L453.8 226.9L449.4 224.4L449.4 222.5L452.5 218.8Z" fill="#c7e9b4" stroke="#5f6b6b" stroke-width="0.4"/>
<path d="M440.6 226.9L445 225L448.1 223.1L449.4 225.6L446.9 228.1L445.6 231.2L443.1 233.1L440.6 233.1Z" fill="#edf8b1" stroke="#5f6b6b" stroke-width="0.4"/>
<path d="M440 220L441.9 219.4L441.5 223.8L440.6 226.9L439.8 225Z" fill="#edf8b1" stroke="#5f6b6b" stroke-width="0.4"/>
<path d="M655.5 191.8L657.5 192.5L660 194.5L664 194L666 195.5L667 197L664.5 198.5L664 200L661.5 199L659.5 200L657 199.5L656 197.5L657 195.5Z" fill="#41b6c4" stroke="#5f6b6b" stroke-width="0.4"/>
<path d="M659.5 202L662 203L664.5 205.5L665.5 209L667 213L668 216.5L667 219L664 220L662 221.5L660 222.5L659 220.5L657 220L654.5 220.5L653 221.5L652 220L650 221L648.5 222.5L647 223L648 221L650 219L652 217L655 216.5L657.5 215.5L657.8 213L660 212L661.5 209.5L660.5 206L659.5 204Z" fill="#41b6c4" stroke="#5f6b6b" stroke-width="0.4"/>
<path d="M646.5 223.5L648.5 222.5L650 223L652 225L652.5 227.5L651 229L649.5 227L647.5 225Z" fill="#41b6c4" stroke="#5f6b6b" stroke-width="0.4"/>
<path d="M653 222L656 221L657 222L654.5 223.5Z" fill="#41b6c4" stroke="#5f6b6b" stroke-width="0.4"/>
<path d="M634.5 211L637 210L640 210.5L642.5 213L644 216.5L643.5 219L640 220L638 219L636.5 216.5L635.5 214Z" fill="#225ea8" stroke="#5f6b6b" stroke-width="0.4"/>
<path d="M636.5 199L637.5 202L636 204.5L635 207.5L637 210L634.5 211L631.5 209.5L630.5 207L627.5 205L624 208L621 208.5L619 206L616 207.5L614.5 206.5L620 204L628 203L633 200.5Z" fill="#fff" stroke="#c8c8c8" stroke-width="0.5"/>
<path d="M639.5 170L643 173L648 178L652 182L654.5 183L653 185L657 188.5L654 189.5L651 185L647 180L643 175.5L640 172Z" fill="#c7e9b4" stroke="#5f6b6b" stroke-width="0.4"/>
<path d="M501.2 243.8L503.8 238.8L500 232.5L507.5 231.9L511.9 227.5L516.9 223.1L518.1 217.5L518.1 214.4L521.9 213.1L526.2 213.8L530 216.9L533.8 220L536.2 223.8L536.9 226.2L540 228.8L542.5 231.2L543.8 234.4L548.8 236.9L555 239.4L560 240L560.6 237.5L562.5 236.9L561.9 238.8L568.1 238.8L570 236.2L575 233.1L577.5 234.4L579.4 236.2L577.5 238.8L576.2 242.5L573.8 245.6L572.5 249.4L571.2 252.5L570 250L569.4 248.1L567.5 250L565 252.5L563.1 250L562.5 251.9L560 255L555 260.6L550 266.9L547.5 270.6L546.5 280L544.4 287.5L541.5 289L539.4 286.2L536.2 280L533.1 273.8L531.2 267.5L529 261.2L527.5 255.6L525 255L521.2 253.8L519.4 251.2L516.9 246.9L512.5 244.4L506.2 243.8Z" fill="#7fcdbb" stroke="#5f6b6b" stroke-width="0.4"/>
<path d="M104.4 154.4L106.2 156.2L112.5 156.9L113.8 161.2L114.4 165.6L111.9 166.9L110 162.5L108.1 158.1Z" fill="#41b6c4" stroke="#5f6b6b" stroke-width="0.4"/>
<path d="M540 182L548 180L558 175.6L562 177L570 179.6L580 181.6L590 180.4L595 180L598 184.4L605 186L607 187.6L601 189L597 193L594 198L584 200L572 198L562 196L552 191L547 186L542 184Z" fill="#41b6c4" stroke="#5f6b6b" stroke-width="0.4"/>
<path d="M457.2 180.2L463.2 175.8L474.5 177.2L483.5 176.5L482 170.5L489.5 168.2L496.2 166.3L503 169L510.5 169.8L516.5 173.5L524 176.5L533 180.2L538.2 182.5L536 187L532.2 189.2L530 194.5L531.5 198.2L527 197.5L519.5 197.5L515 198.2L512 201.2L510.5 203.8L507.5 202.9L503 200.8L497.8 196.8L493.2 194.5L489.5 192.2L484.2 191.5L479.8 192.2L479 196.8L481.2 201.2L478.2 200.5L473.8 199.8L469.2 196.8L467.8 193.8L471.5 190L469.2 187.8L464 188.5L460.2 190L458 185.5Z" fill="#1d91c0" stroke="#5f6b6b" stroke-width="0.4"/>
<path d="M585.6 258.8L587.5 256.2L590 256.9L593.1 261.2L595.6 262.5L599.4 263.1L602.5 266.2L604.4 270.6L602.5 271.9L599.4 272.5L597.5 274.4L596.9 276.9L594.4 275L592.5 274.4L591.9 277.5L591.2 281.2L592.5 285L593.8 288.8L595.6 292.5L594.4 293.1L591.9 290L590 286.2L589.4 281.9L590.6 277.5L588.8 272.5L586.2 266.2L584.4 262.5Z" fill="#41b6c4" stroke="#5f6b6b" stroke-width="0.4"/>
<path d="M591.2 254.4L593.1 252.5L595.6 254.4L598.1 256.2L600 259.4L602.5 261.9L605 265.6L607.5 269.4L608.1 272.5L605.6 273.1L604.4 270.6L602.5 266.2L599.4 263.1L595.6 262.5L593.1 261.2L590 256.9Z" fill="url(#h)" stroke="#c8c8c8" stroke-width="0.5"/>
<path d="M597.5 274.4L599.4 272.5L602.5 271.9L605.6 273.1L608.1 272.5L608.8 276.2L606.2 280L603.1 281.2L600 280L598.1 277.5Z" fill="url(#h)" stroke="#c8c8c8" stroke-width="0.5"/>
<path d="M594.4 293.1L596.9 292.5L600 295.6L601.5 300L602.2 303.8L600 304.4L597.5 301.2L595 296.9Z" fill="#1d91c0" stroke="#5f6b6b" stroke-width="0.4"/>
<path d="M542.5 231.2L545.6 230.6L552.5 233.8L559.4 236.9L560 240L555 239.4L548.8 236.9L543.8 234.4Z" fill="url(#h)" stroke="#c8c8c8" stroke-width="0.5"/>
<path d="M562.5 236.9L568.1 236.6L568.5 238.8L562.5 238.8Z" fill="url(#h)" stroke="#c8c8c8" stroke-width="0.5"/>
<path d="M479 192.2L484.2 191.5L489.5 193L493.2 195.2L497.8 196L503 199.8L507.5 202L510.5 202.8L514.2 202L517.2 202.8L513.5 205L509.8 205L509 211L506 211.8L503 208.8L500 205.8L495.5 203.5L491.8 201.2L488 199L483.5 199.8L481.2 201.2L479 196.8Z" fill="#225ea8" stroke="#5f6b6b" stroke-width="0.4"/>
<path d="M512 200.5L515 198.2L519.5 197.5L527 197.5L531.5 198.2L528.5 201.2L524 203.5L519.5 205L515 204.2L517.2 202.8L514.2 202Z" fill="#1d91c0" stroke="#5f6b6b" stroke-width="0.4"/>
<path d="M509.8 205L513.5 205L519.5 205.8L521.8 208L523.2 211.8L518.8 211L516.5 212.5L513.5 211.8L511.2 209.5L509 211Z" fill="#1d91c0" stroke="#5f6b6b" stroke-width="0.4"/>
<path d="M447.8 196.5L451.5 197.6L456 198.4L459.8 199.9L460.9 202.1L457.5 201.8L453.8 201.4L450.8 200.2L448.9 198.4Z" fill="#41b6c4" stroke="#5f6b6b" stroke-width="0.4"/>
<path d="M455.6 202.9L457.5 201.8L460.9 202.1L460.1 204.8L461.6 207.8L459.8 207.4L457.9 205.9Z" fill="#7fcdbb" stroke="#5f6b6b" stroke-width="0.4"/>
<path d="M459.8 199.9L462.8 202.5L465 201.8L468 204L469.1 205.5L467.2 207.4L466.5 209.2L465 207.8L462.8 208.1L461.6 207.8L460.1 204.8L460.9 202.1Z" fill="#c7e9b4" stroke="#5f6b6b" stroke-width="0.4"/>
<path d="M578.1 238.8L580 236.9L582.5 237.5L583.8 241.2L583.1 245L586.2 248.8L590 251.9L591.2 254.4L587.5 255.6L585.6 258.8L584.4 262.5L586.2 266.2L588.8 272.5L590.6 277.5L590 280.6L588.1 276.9L586.9 271.2L585 266.2L583.1 266.9L580 268.1L578.1 265.6L576.9 261.2L575 257.5L572.5 255L571.9 250L573.1 247.5L574.4 243.8L576.2 241.2Z" fill="#0c2c84" stroke="#5f6b6b" stroke-width="0.4"/>
<path d="M593.8 251.2L600 249.4L603.8 251.2L606.9 254.4L603.8 256.2L601.2 258.8L603.8 261.2L607.5 265L611.2 270L613.1 275L613.1 278.8L610 282.5L606.9 284.4L604.4 286.9L603.8 283.8L605.6 281.2L608.8 278.8L610 275L608.1 272.5L607.5 269.4L605 265.6L602.5 261.9L600 259.4L598.1 256.2L595.6 254.4Z" fill="#0c2c84" stroke="#5f6b6b" stroke-width="0.4"/>
<path d="M560.6 241.9L563.1 241.2L566.2 243.8L569.4 244.4L570 246.9L568.8 249.4L570.6 252.5L569.4 253.8L567.5 250L565 252.5L563.1 250L561.9 246.2Z" fill="#225ea8" stroke="#5f6b6b" stroke-width="0.4"/>
<path d="M460.2 192.2L464 188.5L469.2 187.8L471.5 190L467.8 193.8L469.2 196.8L473.8 199.8L474.5 201.2L475.2 205L477.5 208L479.8 211.8L476 213.2L472.2 211.8L470 208L468.5 203.5L465.5 199L461.8 196Z" fill="#fff" stroke="#c8c8c8" stroke-width="0.5"/>
<path d="M516.9 246.9L522.5 246.2L521.9 242.5L518.1 240L523.1 235.6L526.2 230L527.5 225L524.4 220L527.5 218.8L531.2 218.1" fill="none" stroke="#5f6b6b" stroke-width="0.4"/>
</g>
<!-- legend -->
<g id="legend">
<rect x="157.5" y="516.5" width="47" height="12" fill="url(#h)" stroke="#ccc" stroke-width="1"/>
<text class="l" x="181" y="510" text-anchor="middle">No data</text><path d="M181 513V516" stroke="#999" stroke-width="0.7"/>
<rect x="224" y="516" width="58.5" height="12" fill="#ffffd9"/>
<rect x="282.5" y="516" width="58.5" height="12" fill="#edf8b1"/>
<rect x="341" y="516" width="58.5" height="12" fill="#c7e9b4"/>
<rect x="399.5" y="516" width="58.5" height="12" fill="#7fcdbb"/>
<rect x="458" y="516" width="58.5" height="12" fill="#41b6c4"/>
<rect x="516.5" y="516" width="58.5" height="12" fill="#1d91c0"/>
<rect x="575" y="516" width="58.5" height="12" fill="#225ea8"/>
<path d="M633.5 516H688.5L693 522L688.5 528H633.5Z" fill="#0c2c84"/>
<path d="M224 516.5H688.5L692.5 522L688.5 527.5H224Z" fill="none" stroke="#bbb" stroke-width="0.7"/>
<g stroke="#999" stroke-width="0.7"><path d="M224 512V528M282.5 512V528M341 512V528M399.5 512V528M458 512V528M516.5 512V528M575 512V528M633.5 512V528"/></g>
<g class="l" text-anchor="middle"><text x="224" y="510">0%</text><text x="282.5" y="510">10%</text><text x="341" y="510">20%</text><text x="399.5" y="510">30%</text><text x="458" y="510">40%</text><text x="516.5" y="510">50%</text><text x="575" y="510">60%</text><text x="633.5" y="510">70%</text></g>
</g>
<!-- footer -->
<text class="f" x="16.5" y="561" font-weight="bold" textLength="71.5" lengthAdjust="spacingAndGlyphs">Data source:</text>
<text class="f" x="92" y="561" textLength="187" lengthAdjust="spacingAndGlyphs">Integrated Values Surveys (2024)</text>
<text class="f" x="16.5" y="580.5" font-weight="bold" textLength="31.7" lengthAdjust="spacingAndGlyphs">Note:</text>
<text class="f" x="52" y="580.5" textLength="583" lengthAdjust="spacingAndGlyphs">Trust here corresponds to responding to have "a great deal of confidence" or "quite a lot of confidence".</text>
<text class="f" x="831" y="561" text-anchor="end" textLength="195" lengthAdjust="spacingAndGlyphs">OurWorldinData.org/trust | CC BY</text>
</svg>
</body></html>
